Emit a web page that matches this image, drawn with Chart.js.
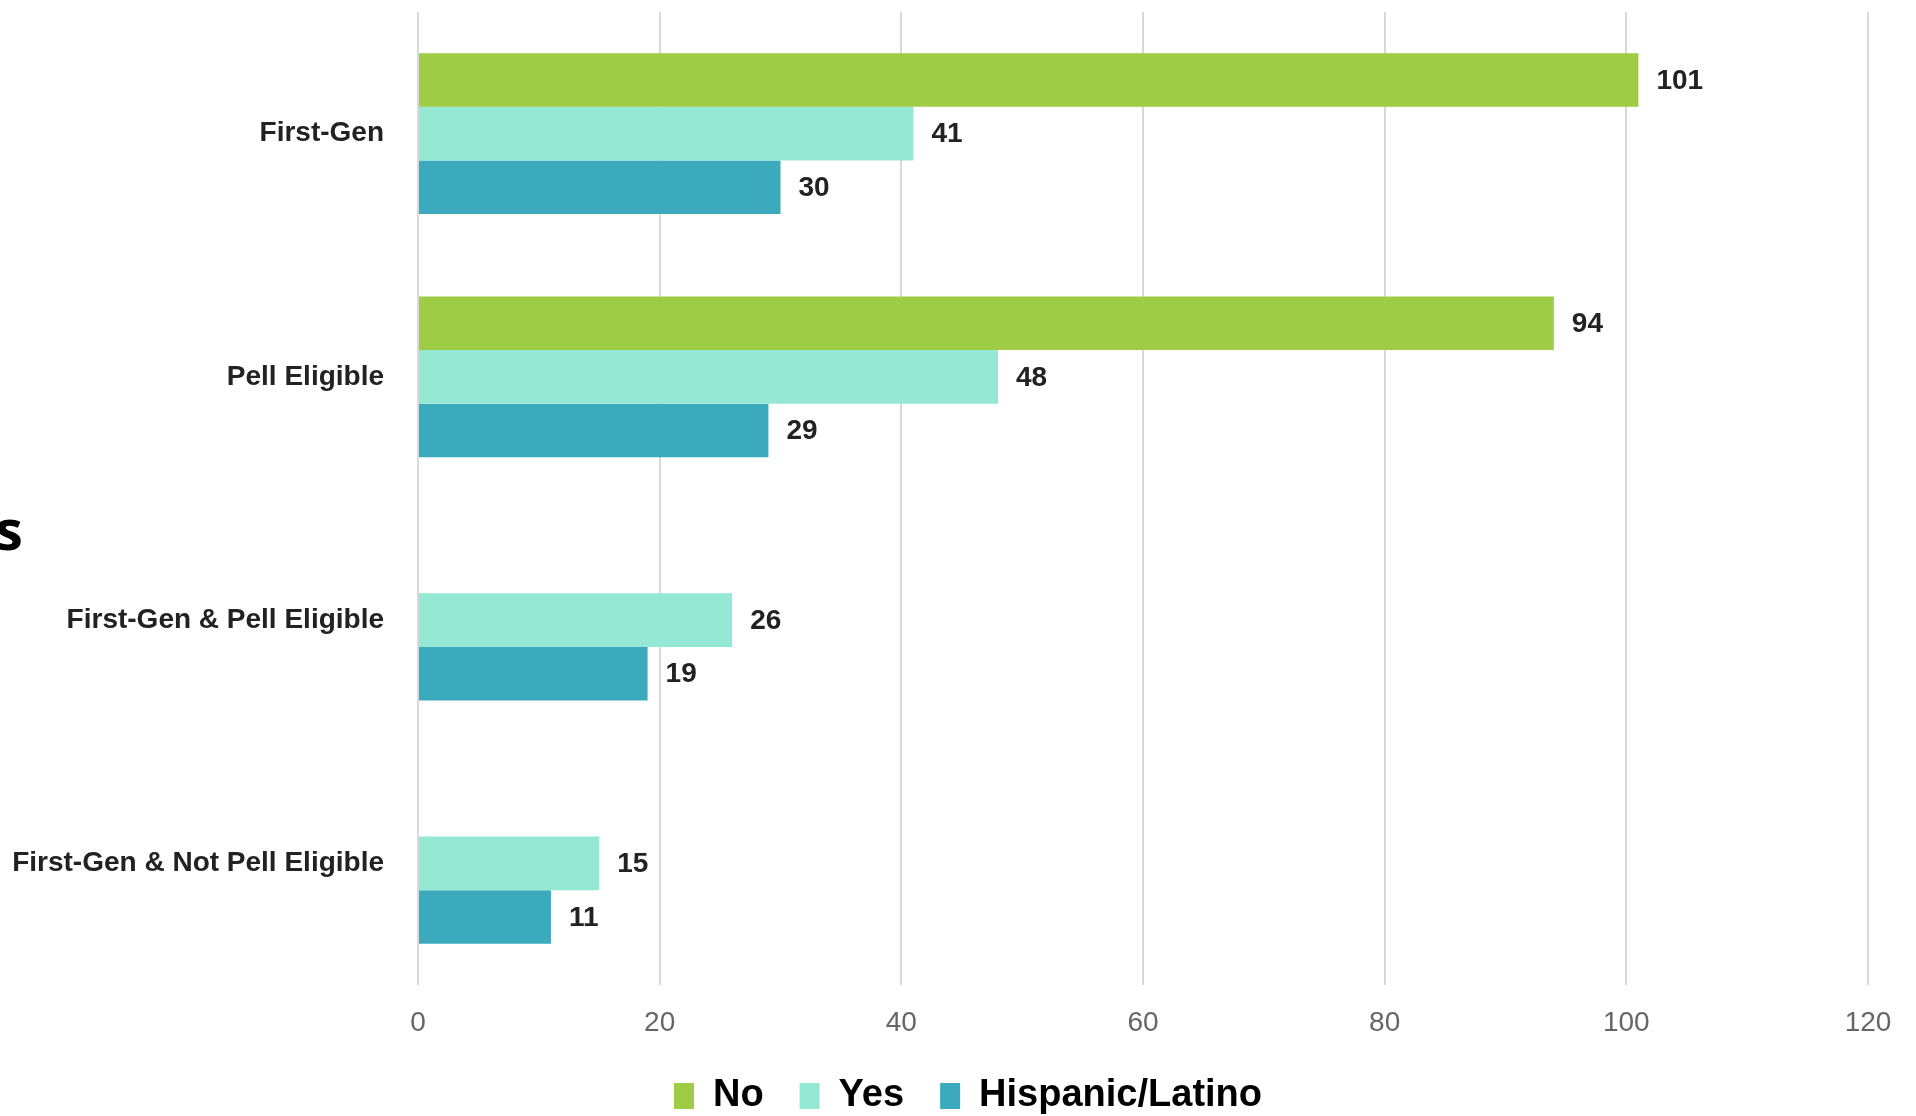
<!DOCTYPE html>
<html>
<head>
<meta charset="utf-8">
<script src="https://cdn.jsdelivr.net/npm/chart.js@4"></script>
<style>
  html, body { margin: 0; padding: 0; background: #ffffff; overflow: hidden; }
  #wrap { position: relative; width: 1916px; height: 1116px; }
  #titulo-corte {
    position: absolute; left: -5px; top: 500px;
    font: bold 56px "Open Sans", "Noto Sans", sans-serif; line-height: 56px; color: #000;
  }
  canvas { position: absolute; left: 0; top: 0; }
</style>
</head>
<body>
<div id="wrap">
  <div id="titulo-corte">s</div>
  <canvas id="graficoGrupos" width="1916" height="1116"></canvas>
</div>
<script>
/* Datos */
const categorias = ['First-Gen', 'Pell Eligible', 'First-Gen & Pell Eligible', 'First-Gen & Not Pell Eligible'];
const serieNo = [101, 94, null, null];
const serieYes = [41, 48, 26, 15];
const serieHispanic = [30, 29, 19, 11];
const ticksX = [0, 20, 40, 60, 80, 100, 120];

const FUENTE = '"Liberation Sans", Arial, sans-serif';
const TEXTO = '#222222';

// Etiquetas de valor a la derecha de cada barra
const etiquetasValor = {
    id: 'etiquetasValor',
    afterDatasetsDraw(chart) {
        const ctx = chart.ctx;
        ctx.save();
        ctx.font = 'bold 28px ' + FUENTE;
        ctx.fillStyle = TEXTO;
        ctx.textAlign = 'left';
        ctx.textBaseline = 'middle';
        chart.data.datasets.forEach((ds, i) => {
            const meta = chart.getDatasetMeta(i);
            meta.data.forEach((barra, j) => {
                const v = ds.data[j];
                if (v === null || v === undefined) return;
                ctx.fillText(String(v), barra.x + 18, barra.y + 1);
            });
        });
        ctx.restore();
    }
};

// Corre la leyenda un poco a la derecha del centro del lienzo
const moverLeyenda = {
    id: 'moverLeyenda',
    afterLayout(chart) {
        if (!chart.legend) return;
        chart.legend.left += 34;
        chart.legend.right += 34;
    }
};

const ctx = document.getElementById('graficoGrupos').getContext('2d');
new Chart(ctx, {
    type: 'bar',
    data: {
        labels: categorias,
        datasets: [
            { label: 'No', data: serieNo, backgroundColor: '#9ecd45' },
            { label: 'Yes', data: serieYes, backgroundColor: '#95e8d4' },
            { label: 'Hispanic/Latino', data: serieHispanic, backgroundColor: '#3baabd' }
        ]
    },
    options: {
        indexAxis: 'y',
        responsive: false,
        animation: false,
        barPercentage: 1,
        categoryPercentage: 0.66,
        layout: { padding: { top: 12, right: 48, left: 0, bottom: -9 } },
        plugins: {
            tooltip: { enabled: false },
            legend: {
                position: 'bottom',
                labels: {
                    boxWidth: 20,
                    boxHeight: 26,
                    padding: 36,
                    color: '#000',
                    font: { family: FUENTE, size: 38, weight: 'bold' }
                }
            }
        },
        scales: {
            x: {
                min: 0,
                max: 120,
                afterBuildTicks: (scale) => { scale.ticks = ticksX.map(v => ({ value: v })); },
                afterFit: (scale) => { scale.height = 56; },
                grid: { color: '#d9d9d9', lineWidth: 2, drawTicks: false },
                border: { display: false },
                ticks: {
                    padding: 21,
                    color: '#666666',
                    font: { family: FUENTE, size: 28 }
                }
            },
            y: {
                afterFit: (scale) => {
                    scale.width = 418;
                    // sin margen extra arriba/abajo por las etiquetas
                    scale.paddingTop = 0;
                    scale.paddingBottom = 0;
                },
                grid: { display: false },
                border: { display: false },
                ticks: {
                    padding: 26,
                    color: TEXTO,
                    font: { family: FUENTE, size: 28, weight: 'bold' }
                }
            }
        }
    },
    plugins: [etiquetasValor, moverLeyenda]
});
</script>
</body>
</html>
